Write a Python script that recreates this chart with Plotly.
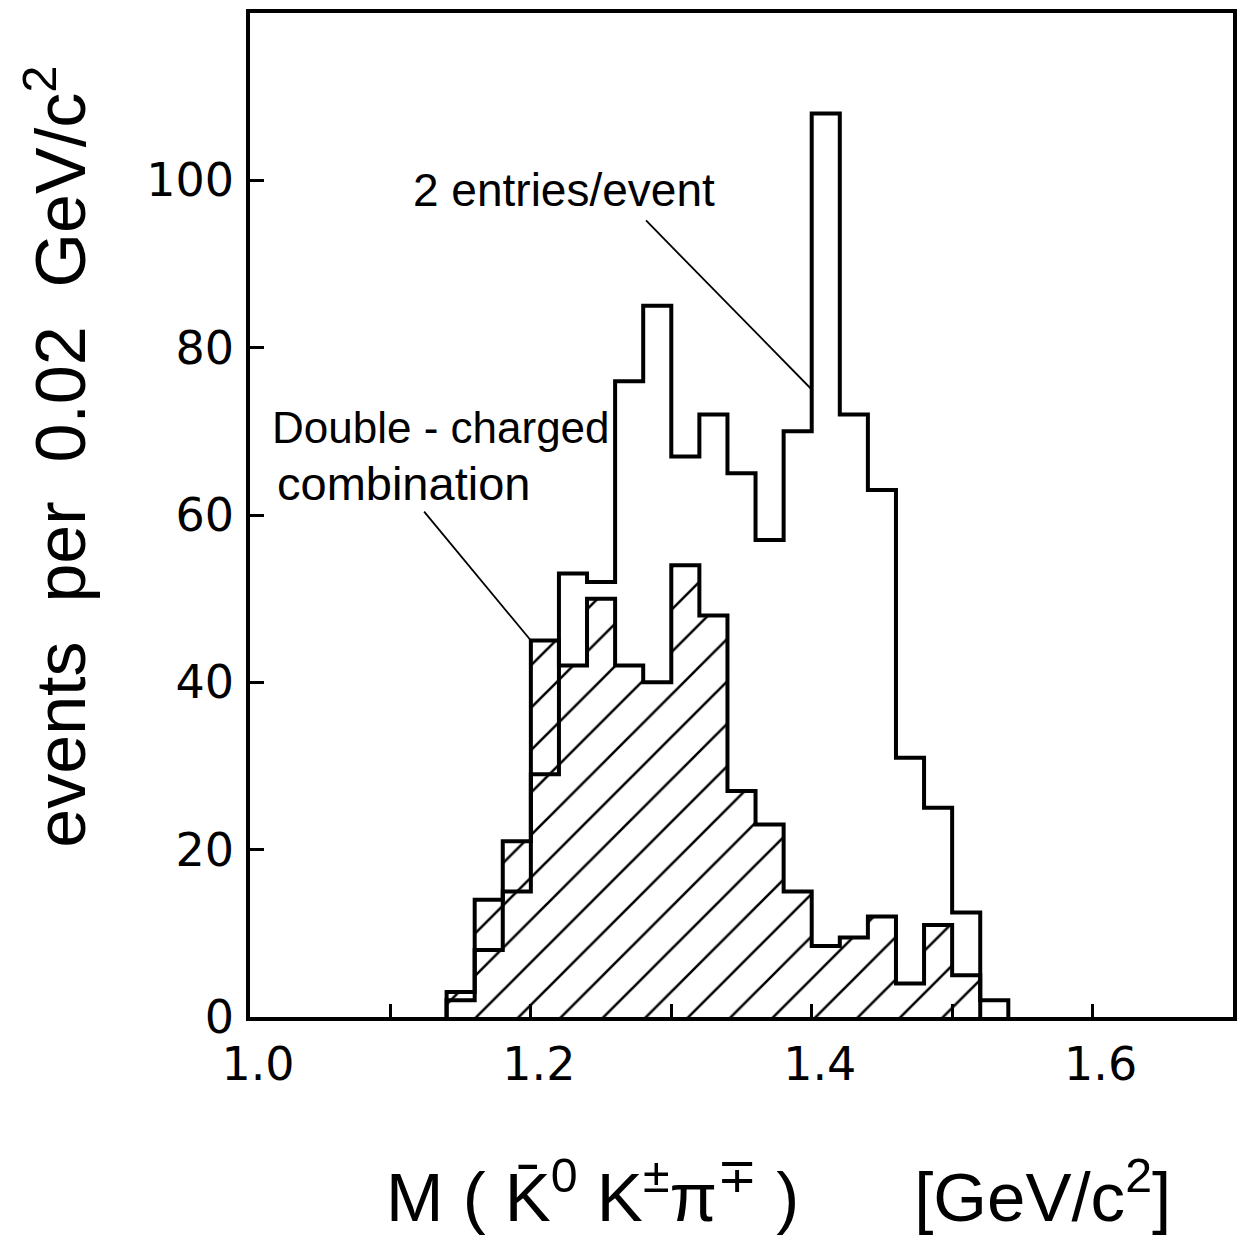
import plotly.graph_objects as go

# ---- data ----
open_edges = [1.14, 1.16, 1.18, 1.20, 1.22, 1.24, 1.26, 1.28, 1.30, 1.32, 1.34,
              1.36, 1.38, 1.40, 1.42, 1.44, 1.46, 1.48, 1.50, 1.52, 1.54]
open_counts = [2, 8, 15, 29, 53, 52, 76, 85, 67, 72,
               65, 57, 70, 108, 72, 63, 31, 25, 12.5, 2]          # 2 entries/event

hatch_edges = [1.14, 1.16, 1.18, 1.20, 1.22, 1.24, 1.26, 1.28, 1.30, 1.32, 1.34,
               1.36, 1.38, 1.40, 1.42, 1.44, 1.46, 1.48, 1.50, 1.52]
hatch_counts = [3, 14, 21, 45, 42, 50, 42, 40, 54, 48,
                27, 23, 15, 8.5, 9.5, 12, 4, 11, 5]               # double-charged combination

x_major_ticks = [1.0, 1.2, 1.4, 1.6]
x_major_labels = ["1.0", "1.2", "1.4", "1.6"]
x_minor_ticks = [1.1, 1.3, 1.5]
y_tick_vals = [0, 20, 40, 60, 80, 100]
y_tick_text = ["0", "20", "40", "60", "80", "100"]


def step_xy(edges, counts):
    xs = [edges[0]] + list(edges)
    ys = [0] + list(counts) + [0]
    return xs, ys


hx, hy = step_xy(hatch_edges, hatch_counts)
ox, oy = step_xy(open_edges, open_counts)

fig = go.Figure()
fig.add_trace(go.Scatter(
    x=hx, y=hy, mode="lines",
    line=dict(color="black", width=4, shape="hv"),
    fill="tozeroy", fillcolor="white",
    fillpattern=dict(shape="/", fgcolor="black", bgcolor="white", size=30,
                     solidity=0.085, fgopacity=1),
    hoverinfo="skip",
))
fig.add_trace(go.Scatter(
    x=ox, y=oy, mode="lines",
    line=dict(color="black", width=4, shape="hv"),
    hoverinfo="skip",
))

# pointer lines of the labels
fig.add_shape(type="line", xref="x", yref="y", x0=1.282, y0=95.2, x1=1.40, y1=75.0,
              line=dict(color="black", width=1.8))
fig.add_shape(type="line", xref="x", yref="y", x0=1.124, y0=60.4, x1=1.20, y1=45.0,
              line=dict(color="black", width=1.8))

fam = "Liberation Sans, Arial, sans-serif"
fig.add_annotation(x=1.2234, y=98.9, xref="x", yref="y", text="2 entries/event",
                   showarrow=False, font=dict(family=fam, size=46, color="black"),
                   xanchor="center", yanchor="middle")
fig.add_annotation(x=1.0142, y=70.4, xref="x", yref="y", text="Double - charged",
                   showarrow=False, font=dict(family=fam, size=44, color="black"),
                   xanchor="left", yanchor="middle")
fig.add_annotation(x=1.018, y=63.8, xref="x", yref="y", text="combination",
                   showarrow=False, font=dict(family=fam, size=47, color="black"),
                   xanchor="left", yanchor="middle")

nb = "\u00a0"
fig.add_annotation(
    x=-0.1976, y=0.5578, xref="paper", yref="paper",
    text="events" + nb + " per" + nb + " 0.02" + nb + " GeV/c<sup>2</sup>",
    textangle=-90, showarrow=False, font=dict(family=fam, size=70, color="black"),
    xanchor="center", yanchor="middle")
fig.add_annotation(
    x=0.538, y=-0.1743, xref="paper", yref="paper",
    text="M (" + nb + "K\u0304<sup>0</sup>" + nb + "K<sup>\u00b1</sup>\u03c0<sup>\u2213</sup>" + nb + ")"
         + nb * 6 + "[GeV/c<sup>2</sup>]",
    showarrow=False, font=dict(family=fam, size=69, color="black"),
    xanchor="center", yanchor="middle")

tick_font = dict(family="DejaVu Sans, sans-serif", size=46, color="black")
fig.update_xaxes(
    range=[1.0, 1.7], tickmode="array", tickvals=x_major_ticks, ticktext=x_major_labels,
    ticks="inside", ticklen=13, tickwidth=2.5, tickcolor="black",
    minor=dict(tickmode="array", tickvals=x_minor_ticks, ticks="inside", ticklen=13,
               tickwidth=2.5, tickcolor="black", showgrid=False),
    showline=True, linecolor="black", linewidth=3.5, mirror=True,
    showgrid=False, zeroline=False, tickfont=tick_font,
    ticklabelstandoff=4, ticklabelshift=8,
)
fig.update_yaxes(
    range=[0, 120], tickmode="array", tickvals=y_tick_vals, ticktext=y_tick_text,
    ticks="inside", ticklen=14, tickwidth=2.5, tickcolor="black",
    showline=True, linecolor="black", linewidth=3.5, mirror=True,
    showgrid=False, zeroline=False, tickfont=tick_font, ticklabelstandoff=3,
)
fig.update_layout(
    width=1244, height=1241,
    margin=dict(l=250, r=7, t=13, b=224),
    paper_bgcolor="white", plot_bgcolor="white",
    showlegend=False,
)
fig.write_html("out.html")
